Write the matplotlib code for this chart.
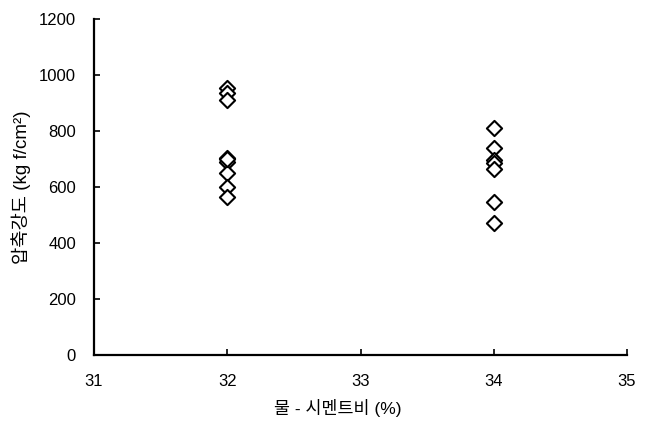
import matplotlib
matplotlib.use("Agg")
import matplotlib.pyplot as plt

plt.rcParams['font.family'] = ['Liberation Sans', 'Noto Sans CJK KR', 'DejaVu Sans']

# data
x_32 = [32] * 9
y_32 = [955, 935, 912, 705, 690, 650, 600, 565, 700]
x_34 = [34] * 7
y_34 = [810, 740, 695, 685, 665, 545, 470]

fig = plt.figure(figsize=(6.51, 4.22), dpi=100)
ax = fig.add_axes([94 / 651, 1 - 355 / 422, (627 - 94) / 651, (355 - 19) / 422])

ax.scatter(x_32 + x_34, y_32 + y_34, marker='D', s=60, facecolor='white',
           edgecolor='black', linewidth=1.5, zorder=3, clip_on=False)

ax.set_xlim(31, 35)
ax.set_ylim(0, 1200)
ax.set_xticks([31, 32, 33, 34, 35])
ax.set_yticks(range(0, 1201, 200))
ax.tick_params(direction='in', length=4, width=1.2, labelsize=12)
ax.tick_params(axis='x', pad=14)
ax.tick_params(axis='y', pad=13)
ax.spines['top'].set_visible(False)
ax.spines['right'].set_visible(False)
ax.spines['left'].set_linewidth(1.6)
ax.spines['bottom'].set_linewidth(1.6)

ax.set_xlabel('물 - 시멘트비 (%)', fontsize=12.5)
ax.set_ylabel('압축강도 (kg f/cm²)', fontsize=13.5)
ax.xaxis.set_label_coords((338 - 94) / 533, -(399 - 355) / 336)
ax.yaxis.set_label_coords(-(94 - 31) / 533, 0.5)

fig.savefig('out.png', dpi=100)
